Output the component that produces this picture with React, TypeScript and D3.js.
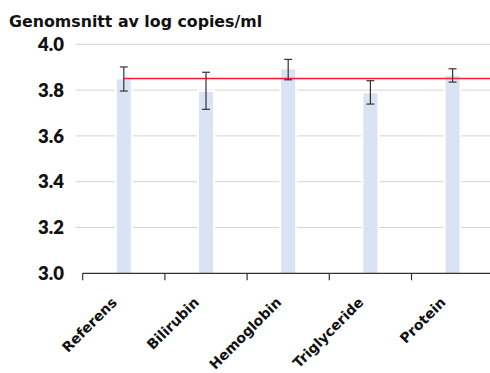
import React from "react";
import * as d3 from "d3";

const categories = ["Referens", "Bilirubin", "Hemoglobin", "Triglyceride", "Protein"];
const means = [3.847, 3.793, 3.891, 3.786, 3.863];
const errLow = [3.796, 3.716, 3.845, 3.739, 3.835];
const errHigh = [3.901, 3.878, 3.934, 3.841, 3.893];
const referenceLevel = 3.851;
const yTicks = [3.0, 3.2, 3.4, 3.6, 3.8, 4.0];
const title = "Genomsnitt av log copies/ml";

const W = 490;
const H = 373;
const WIDE_FONT = "'DejaVu Sans', sans-serif";
const NUM_FONT = "Lato, 'Open Sans', sans-serif";

export default function App() {
  const x = d3
    .scaleBand<string>()
    .domain(categories)
    .range([82.7, 82.7 + 82.2 * categories.length]);
  const y = d3.scaleLinear().domain([3.0, 4.0]).range([273.3, 44.3]);
  const barW = 14;
  const capW = 8;

  return (
    <svg
      width={W}
      height={H}
      style={{ position: "absolute", left: 0, top: 0, background: "#fff" }}
    >
      <text x={9} y={27} fontSize={15.8} fontWeight={700} fill="#111" fontFamily={WIDE_FONT}>
        {title}
      </text>

      {yTicks.map((t) => (
        <g key={t}>
          {t > 3.0 && (
            <line x1={76} x2={W} y1={y(t)} y2={y(t)} stroke="#d4d4d4" strokeWidth={1} />
          )}
          <text
            x={64}
            y={y(t)}
            dy="0.36em"
            textAnchor="end"
            fontSize={18.5}
            fontWeight={800}
            fill="#111"
            fontFamily={NUM_FONT}
          >
            {t.toFixed(1)}
          </text>
        </g>
      ))}

      {categories.map((c, i) => {
        const cx = (x(c) ?? 0) + x.bandwidth() / 2;
        return (
          <g key={c}>
            <rect
              x={cx - barW / 2 - 2}
              y={y(means[i]) - 2}
              width={barW + 4}
              height={y(3.0) - y(means[i]) + 2}
              fill="#fff"
            />
            <rect
              x={cx - barW / 2}
              y={y(means[i])}
              width={barW}
              height={y(3.0) - y(means[i])}
              fill="#dae3f3"
            />
          </g>
        );
      })}

      <line
        x1={(x(categories[0]) ?? 0) + x.bandwidth() / 2}
        x2={W}
        y1={y(referenceLevel)}
        y2={y(referenceLevel)}
        stroke="#ff1a3c"
        strokeWidth={1.5}
      />

      {categories.map((c, i) => {
        const cx = (x(c) ?? 0) + x.bandwidth() / 2;
        return (
          <g key={c} stroke="#333" strokeWidth={1.2}>
            <line x1={cx} x2={cx} y1={y(errLow[i])} y2={y(errHigh[i])} />
            <line x1={cx - capW / 2} x2={cx + capW / 2} y1={y(errLow[i])} y2={y(errLow[i])} />
            <line x1={cx - capW / 2} x2={cx + capW / 2} y1={y(errHigh[i])} y2={y(errHigh[i])} />
          </g>
        );
      })}

      <line x1={82.7} x2={W} y1={y(3.0)} y2={y(3.0)} stroke="#333" strokeWidth={1.2} />
      {categories.map((c) => (
        <line
          key={c}
          x1={x(c) ?? 0}
          x2={x(c) ?? 0}
          y1={y(3.0)}
          y2={y(3.0) + 7}
          stroke="#333"
          strokeWidth={1.2}
        />
      ))}

      {categories.map((c) => {
        const cx = (x(c) ?? 0) + x.bandwidth() / 2;
        const ax = cx - 6;
        const ay = y(3.0) + 30;
        return (
          <text
            key={c}
            x={ax}
            y={ay}
            textAnchor="end"
            fontSize={14}
            fontWeight={700}
            fill="#111"
            fontFamily={WIDE_FONT}
            transform={`rotate(-45 ${ax} ${ay})`}
          >
            {c}
          </text>
        );
      })}
    </svg>
  );
}
